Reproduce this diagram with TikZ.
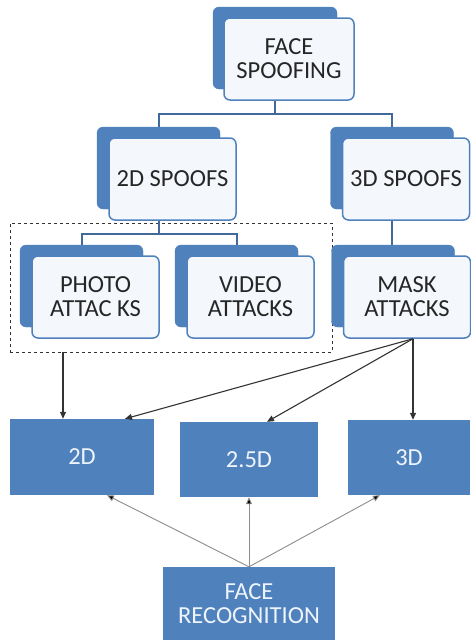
\documentclass[tikz,border=0pt]{standalone}
\usepackage{fontspec}
\setmainfont{Carlito}
\usepackage{tikz}
\usetikzlibrary{arrows.meta,positioning,calc}
\usepackage{xcolor}

\definecolor{boxblue}{HTML}{4F81BD}
\definecolor{linkblue}{HTML}{41699A}
\definecolor{frontfill}{HTML}{F4F7FC}
\definecolor{textgrey}{HTML}{262626}
\definecolor{lighttext}{HTML}{EEF4FB}

\begin{document}
\begin{tikzpicture}[
  x=1pt, y=-1pt,
  every node/.style={font=\fontsize{24.5}{24}\selectfont},
  backbox/.style={
    fill=boxblue,
    draw=boxblue,
    rounded corners=6pt,
    inner sep=0pt,
    minimum width=123pt,
    minimum height=82pt
  },
  frontbox/.style={
    draw=boxblue,
    line width=1.5pt,
    fill=frontfill,
    rounded corners=6pt,
    inner sep=0pt,
    align=center,
    text=textgrey,
    minimum width=127pt,
    minimum height=82pt
  },
  solidbox/.style={
    fill=boxblue,
    inner sep=0pt,
    align=center,
    text=lighttext
  },
  groupbox/.style={
    draw=black!80,
    dashed,
    line width=0.9pt,
    inner sep=0pt,
    minimum width=322pt,
    minimum height=129pt
  },
  link/.style={
    draw=linkblue,
    line width=2pt
  },
  arrow/.style={
    -{Triangle[length=7pt,width=6pt]},
    draw=black!80,
    line width=1.1pt
  },
  thinarrow/.style={
    -{Triangle[length=7pt,width=6pt,fill=black]},
    draw=black!45,
    line width=0.9pt
  }
]

\useasboundingbox (0,0) rectangle (471,640);

% ------------------------------------------------
% Spoof hierarchy (back card first, then front card)
% ------------------------------------------------
\node[backbox, minimum width=124pt] (spoofbk) at (275,48) {};
\node[frontbox, minimum width=130pt] (spoof) at ([xshift=14pt,yshift=-11pt]spoofbk) {FACE\\SPOOFING};

\node[backbox] (s2dbk) at (158.5,168) {};
\node[frontbox] (s2d) at ([xshift=14pt,yshift=-11pt]s2dbk) {2D SPOOFS};

\node[backbox] (s3dbk) at (392,168) {};
\node[frontbox] (s3d) at ([xshift=14pt,yshift=-11pt]s3dbk) {3D SPOOFS};

% 2D attacks group
\node[groupbox] (grp2d) at (171,287.5) {};

\node[backbox] (photobk) at (81.5,286) {};
\node[frontbox] (photo) at ([xshift=14pt,yshift=-11pt]photobk) {PHOTO\\ATTAC KS};

\node[backbox] (videobk) at (236.5,286) {};
\node[frontbox] (video) at ([xshift=14pt,yshift=-11pt]videobk) {VIDEO\\ATTACKS};

\node[backbox] (maskbk) at (393,286) {};
\node[frontbox] (mask) at ([xshift=14pt,yshift=-11pt]maskbk) {MASK\\ATTACKS};

% ------------------------------------------------
% Recognition types
% ------------------------------------------------
\node[solidbox, minimum width=144pt, minimum height=76pt] (d2)  at (82,457)    {2D};
\node[solidbox, minimum width=138pt, minimum height=75pt] (d25) at (249,459.5) {2.5D};
\node[solidbox, minimum width=122pt, minimum height=75pt] (d3)  at (409,457.5) {3D};

\node[solidbox, minimum width=172pt, minimum height=73pt] (facerec) at (249,603.5) {FACE\\RECOGNITION};

% ------------------------------------------------
% Tree connectors
% ------------------------------------------------
\draw[link] (spoofbk.south |- spoof.south) -- ++(0,13) coordinate (spoofj) -| (s2dbk.north);
\draw[link] (spoofj) -| (s3dbk.north);

\draw[link] (s2dbk.south |- s2d.south) -- ++(0,13) coordinate (s2dj) -| (photobk.north);
\draw[link] (s2dj) -| (videobk.north);

\draw[link] (s3dbk.south |- s3d.south) -- (s3dbk.south |- maskbk.north);

% ------------------------------------------------
% Arrows
% ------------------------------------------------
\draw[arrow] ([xshift=-108pt]grp2d.south) -- ([xshift=-108pt]grp2d.south |- d2.north);

\coordinate (maskfan) at ([xshift=6pt]mask.south);
\draw[arrow] (maskfan) -- ([xshift=43pt]d2.north);
\draw[arrow] (maskfan) -- ([xshift=18pt]d25.north);
\draw[arrow] (maskfan) -- (maskfan |- d3.north);

\draw[thinarrow] (facerec.north) -- ([xshift=25pt]d2.south);
\draw[thinarrow] (facerec.north) -- (d25.south);
\draw[thinarrow] (facerec.north) -- ([xshift=-29pt]d3.south);

\end{tikzpicture}
\end{document}
